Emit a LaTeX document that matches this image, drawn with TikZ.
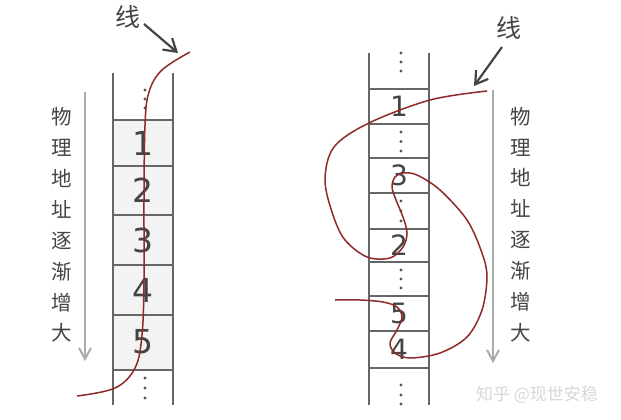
\documentclass[tikz,border=0pt]{standalone}
\usepackage{fontspec}
\newfontfamily\cjk{Noto Sans CJK SC}
\newfontfamily\numfont{DejaVu Sans}
\usetikzlibrary{arrows.meta}
\definecolor{colline}{HTML}{666666}
\definecolor{cellfill}{HTML}{F3F3F3}
\definecolor{redline}{HTML}{8E2A2A}
\definecolor{addrarrow}{HTML}{ABABAB}
\definecolor{txtgray}{HTML}{444444}
\definecolor{wm}{HTML}{D8D8D8}
\begin{document}
\begin{tikzpicture}[x=1pt,y=-1pt,
  col/.style={draw=colline,line width=1.8pt},
  sep/.style={draw=colline,line width=1.6pt},
  numL/.style={text=txtgray,font=\numfont\fontsize{33}{33}\selectfont,inner sep=0pt},
  numR/.style={text=txtgray,font=\numfont\fontsize{28}{28}\selectfont,inner sep=0pt},
  vtext/.style={text=txtgray,align=center,inner sep=0pt,font=\cjk\fontsize{20.5}{30.9}\selectfont},
  xian/.style={text=txtgray,inner sep=0pt,font=\cjk\fontsize{25}{25}\selectfont},
  ptr/.style={draw=txtgray,line width=2.2pt,-{Straight Barb[length=12pt,width=15pt,line width=2.2pt]}},
  addr/.style={draw=addrarrow,line width=2pt,-{Straight Barb[length=11pt,width=12pt,line width=2pt]}},
  thread/.style={draw=redline,line width=1.5pt},
  dot/.style={fill=txtgray!90,draw=none},
]
\useasboundingbox (0,0) rectangle (621,420);
\fill[white] (0,0) rectangle (621,420);

% ---------- left column ----------
\fill[cellfill] (113,120) rectangle (173,370);
\draw[col] (113,73) -- (113,405);
\draw[col] (173,73) -- (173,405);
\foreach \yy in {120,166,215,265,315,370} \draw[sep] (113,\yy) -- (173,\yy);
\node[numL] (l1) at (143,143) {1};
\node[numL] (l2) at (143,190.5) {2};
\node[numL] (l3) at (143,240) {3};
\node[numL] (l4) at (143,290) {4};
\node[numL] (l5) at (143,342) {5};
\foreach \yy in {90,99,108,378,388,398} \fill[dot] (145,\yy) circle (1.7);

% address arrow + text (left)
\coordinate (al0) at (85,92);
\coordinate (al1) at (85,361);
\draw[addr] (al0) -- (al1);
\node[vtext] (vl) at (62,225) {物\\理\\地\\址\\逐\\渐\\增\\大};

% "线" left
\node[xian] (xl) at (128,17) {线};
\coordinate (pl0) at (144,24);
\coordinate (pl1) at (178,53);
\draw[ptr] (pl0) -- (pl1);

% left thread
\draw[thread] plot[smooth,tension=0.6] coordinates {(190,52) (162,70) (149,92) (145,125) (144,200) (144,280) (142,335) (135,368) (115,388) (77,396)};

% ---------- right column ----------
\draw[col] (369,53) -- (369,405);
\draw[col] (429,53) -- (429,405);
\foreach \yy in {89,124,158,193,229,262,296,331,368} \draw[sep] (369,\yy) -- (429,\yy);
\node[numR] (r1) at (399,106.5) {1};
\node[numR] (r3) at (399,175.5) {3};
\node[numR] (r2) at (399,245.5) {2};
\node[numR] (r5) at (399,313.5) {5};
\node[numR] (r4) at (399,349.5) {4};
\foreach \yy in {53,62,71,132,141.5,151,201,211,221,270,279,288,385,395,404} \fill[dot] (401,\yy) circle (1.7);

% address arrow + text (right)
\coordinate (ar0) at (493,90);
\coordinate (ar1) at (493,363);
\draw[addr] (ar0) -- (ar1);
\node[vtext] (vr) at (521,224.5) {物\\理\\地\\址\\逐\\渐\\增\\大};

% "线" right
\node[xian] (xr) at (509,28) {线};
\coordinate (pr0) at (502,47);
\coordinate (pr1) at (474,86);
\draw[ptr] (pr0) -- (pr1);

% right thread
\draw[thread] plot[smooth,tension=0.55] coordinates {(487,91) (430,100) (369,123) (334,147) (325,180) (333,215) (345,240) (367,257) (390,258) (403,247) (407,233) (403,217) (396,200) (392,187) (395,177) (403,173) (417,175) (440,190) (467,220) (482,253) (487,277) (482,310) (467,337) (440,353) (410,358) (395,353) (390,343) (397,330) (402,317) (397,307) (383,302) (360,300) (335,300)};

% watermark
\node[text=wm,inner sep=0pt,font=\cjk\fontsize{17}{17}\selectfont] (wmk) at (537,395) {知乎 @现世安稳};
\end{tikzpicture}
\end{document}
